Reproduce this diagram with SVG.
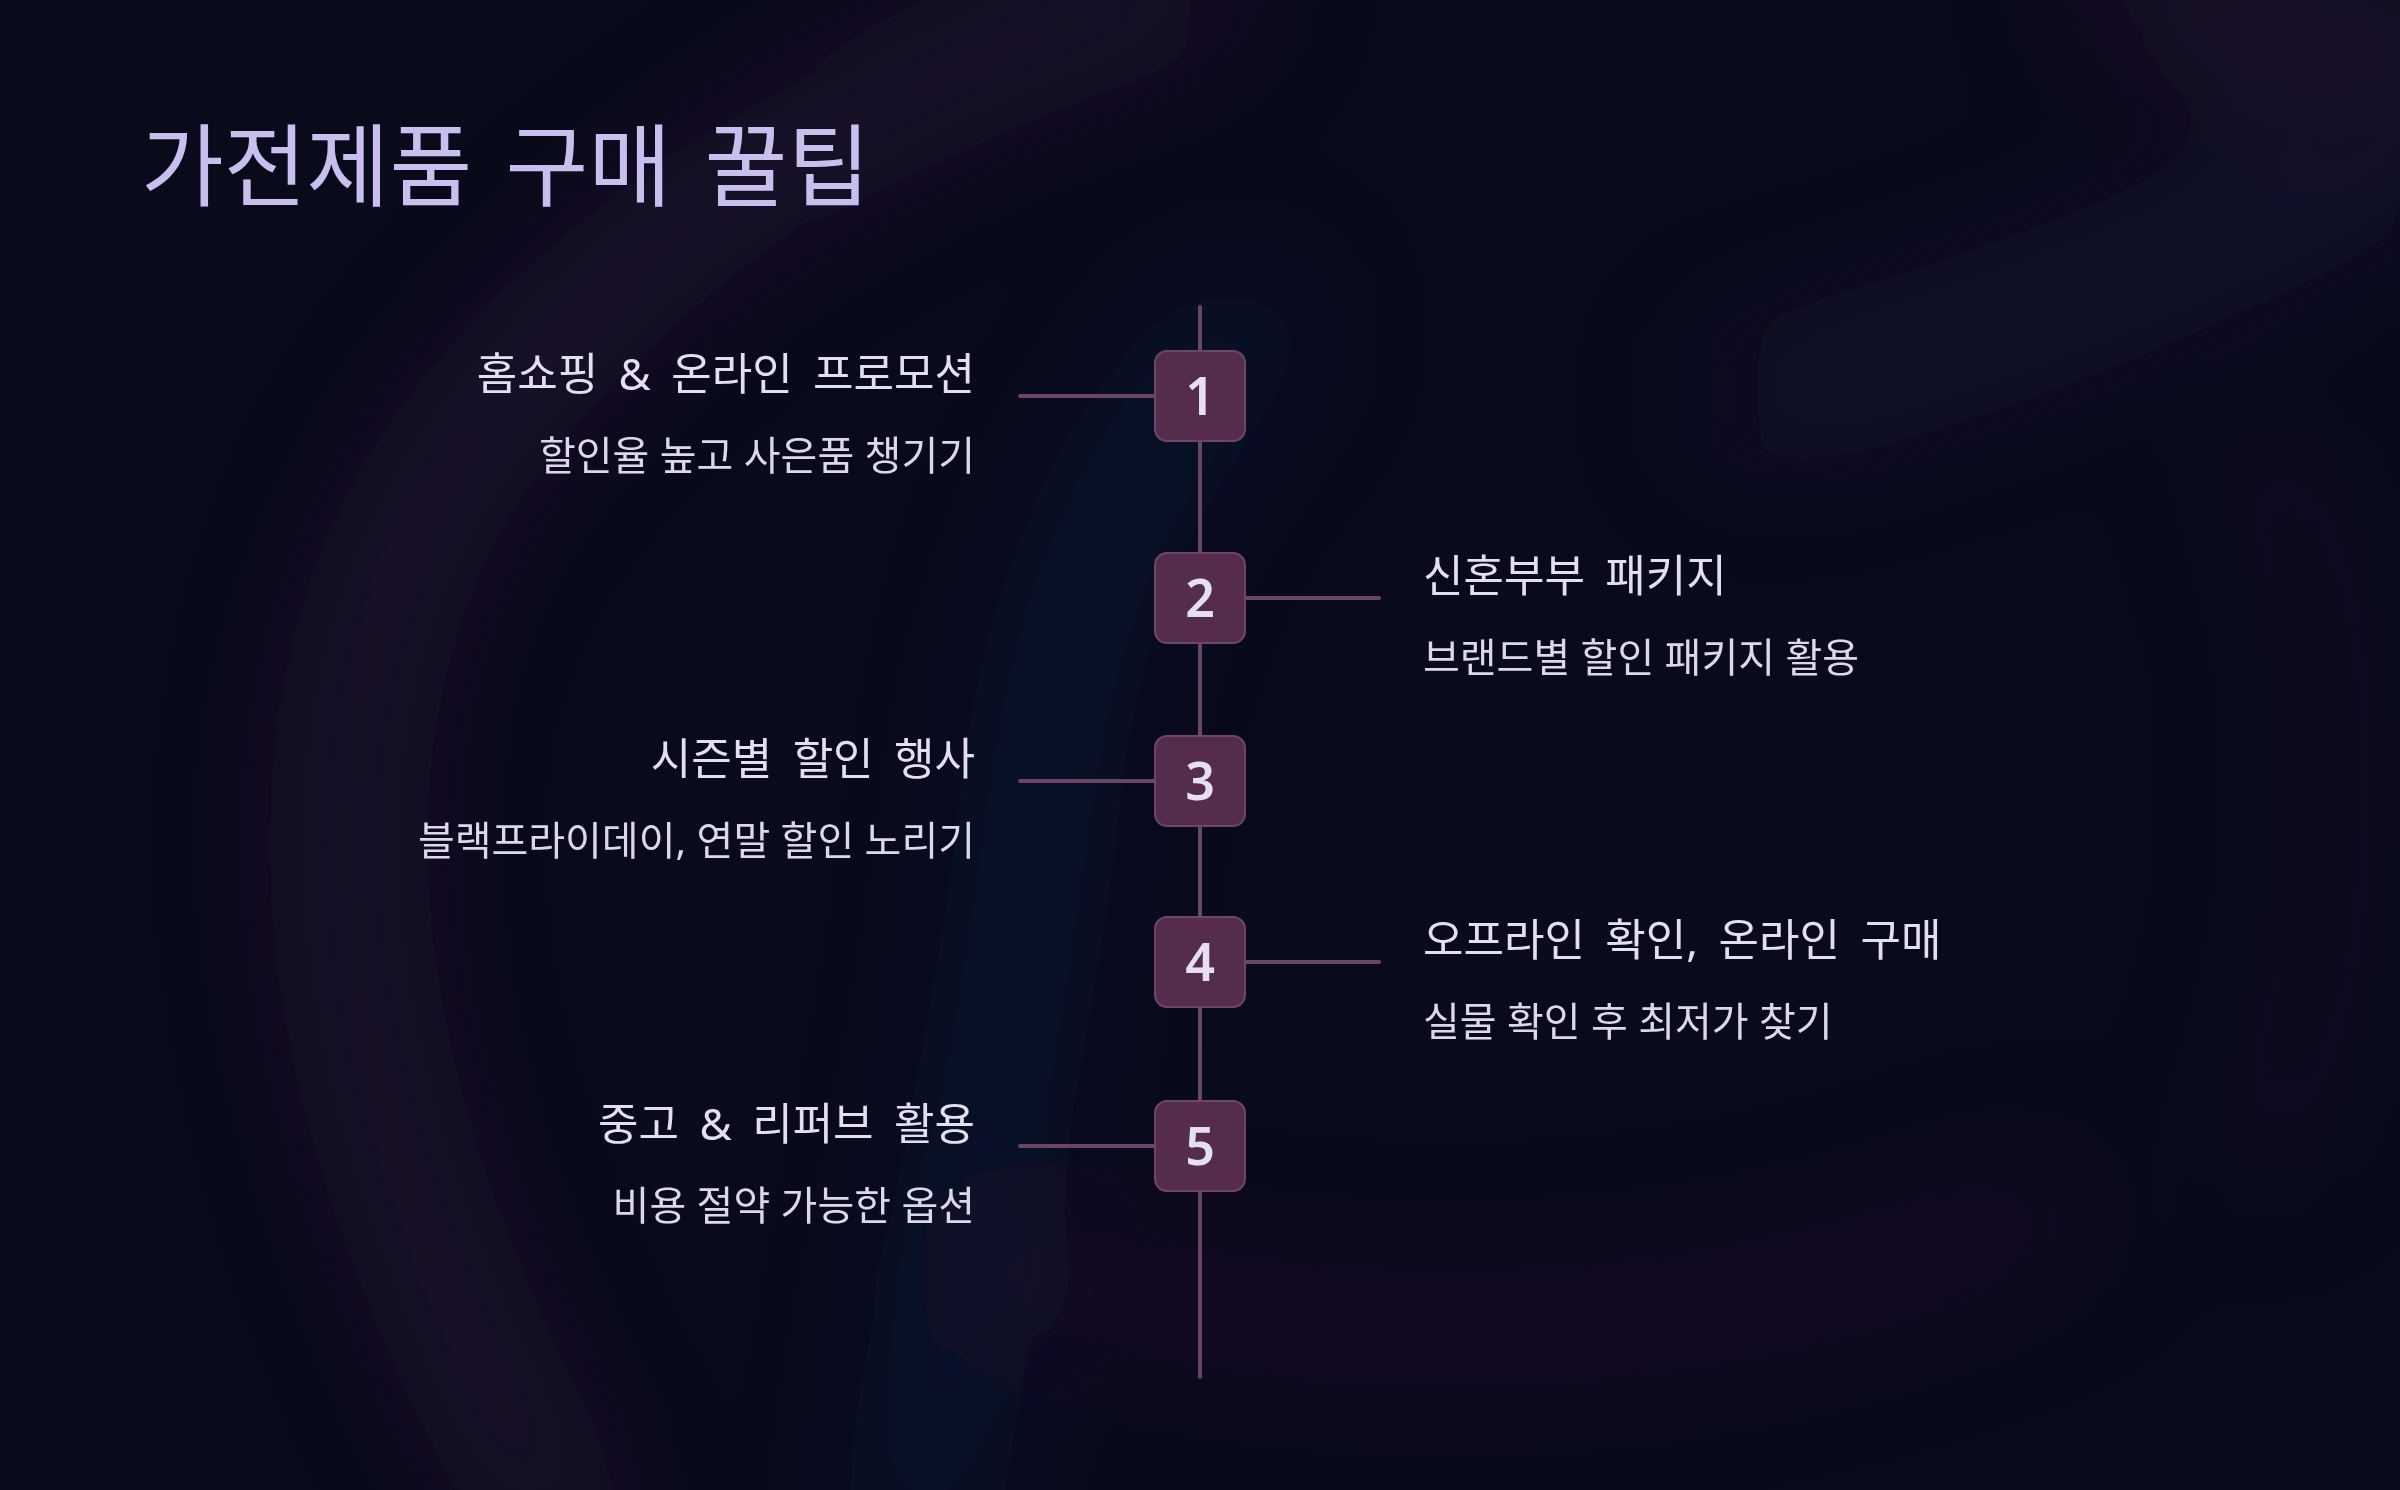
<svg xmlns="http://www.w3.org/2000/svg" width="2400" height="1490" viewBox="0 0 2400 1490">
<style>
.title{font-family:"Noto Sans","Noto Sans CJK KR",sans-serif;font-size:90px;fill:#c7bfee;word-spacing:10px}
.head{font-family:"Noto Sans","Noto Sans CJK KR",sans-serif;font-size:44px;fill:#e3dff0;word-spacing:9px}
.sub{font-family:"Noto Sans","Noto Sans CJK KR",sans-serif;font-size:40px;fill:#dcd8ea}
.l{text-anchor:end}
.num{font-family:"Noto Sans","Open Sans",sans-serif;font-size:52px;font-weight:600;fill:#e4e0f2;text-anchor:middle}
.box{fill:#552c4b;stroke:#6f4568;stroke-width:2}
.conn{stroke:#6c4466;stroke-width:4;stroke-linecap:round;fill:none}
</style>
<defs>
<filter id="blur" x="-100%" y="-100%" width="300%" height="300%"><feGaussianBlur stdDeviation="70"/></filter>
</defs>
<rect width="2400" height="1490" fill="#0a0b1a"/>
<g id="bg" filter="url(#blur)" fill="none" stroke-linecap="round">
<path d="M1200 -20 C900 60 560 260 420 520 C300 760 320 1100 560 1520" stroke="#4a1f58" stroke-width="80" opacity="0.45"/>
<path d="M1250 330 C1120 450 1060 620 1040 800 C1020 1000 960 1250 920 1520" stroke="#15226a" stroke-width="80" opacity="0.4"/>
<path d="M1000 1260 C1300 1360 1700 1360 2050 1210" stroke="#451a50" stroke-width="70" opacity="0.3"/>
<path d="M2260 450 C2360 650 2360 900 2260 1150" stroke="#341a4a" stroke-width="60" opacity="0.25"/>
<path d="M1750 400 C1950 350 2150 280 2420 140" stroke="#2e2860" stroke-width="80" opacity="0.4"/>
<path d="M2120 -20 C2180 20 2260 50 2420 40" stroke="#52205e" stroke-width="70" opacity="0.45"/>
</g>
<g id="connectors">
<line class="conn" x1="1200" y1="307" x2="1200" y2="1377"/>
<line class="conn" x1="1020" y1="396" x2="1156" y2="396"/>
<line class="conn" x1="1244" y1="598" x2="1379" y2="598"/>
<line class="conn" x1="1020" y1="781" x2="1156" y2="781"/>
<line class="conn" x1="1244" y1="962" x2="1379" y2="962"/>
<line class="conn" x1="1020" y1="1146" x2="1156" y2="1146"/>
</g>
<g id="title"><text class="title" x="141" y="199">가전제품 구매 꿀팁</text></g>
<g id="node1">
<rect class="box" x="1155" y="351" width="90" height="90" rx="12"/>
<text class="num" x="1200" y="415">1</text>
<text class="head l" x="975" y="390">홈쇼핑 &amp; 온라인 프로모션</text>
<text class="sub l" x="975" y="470">할인율 높고 사은품 챙기기</text>
</g>
<g id="node2">
<rect class="box" x="1155" y="553" width="90" height="90" rx="12"/>
<text class="num" x="1200" y="617">2</text>
<text class="head" x="1423" y="592">신혼부부 패키지</text>
<text class="sub" x="1423" y="672">브랜드별 할인 패키지 활용</text>
</g>
<g id="node3">
<rect class="box" x="1155" y="736" width="90" height="90" rx="12"/>
<text class="num" x="1200" y="800">3</text>
<text class="head l" x="975" y="775">시즌별 할인 행사</text>
<text class="sub l" x="975" y="855">블랙프라이데이, 연말 할인 노리기</text>
</g>
<g id="node4">
<rect class="box" x="1155" y="917" width="90" height="90" rx="12"/>
<text class="num" x="1200" y="981">4</text>
<text class="head" x="1423" y="956">오프라인 확인, 온라인 구매</text>
<text class="sub" x="1423" y="1036">실물 확인 후 최저가 찾기</text>
</g>
<g id="node5">
<rect class="box" x="1155" y="1101" width="90" height="90" rx="12"/>
<text class="num" x="1200" y="1165">5</text>
<text class="head l" x="975" y="1140">중고 &amp; 리퍼브 활용</text>
<text class="sub l" x="975" y="1220">비용 절약 가능한 옵션</text>
</g>
</svg>
